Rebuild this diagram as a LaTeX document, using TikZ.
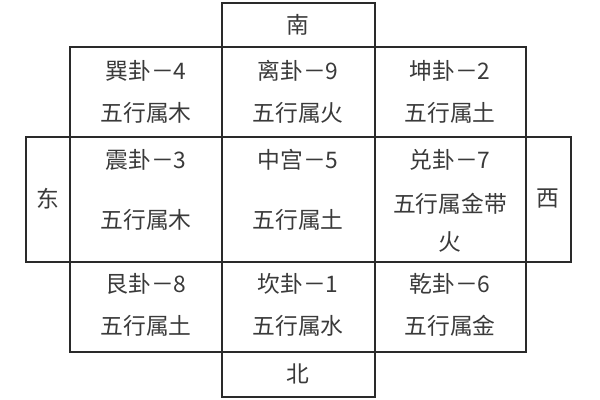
\documentclass[tikz,border=0pt]{standalone}
\usepackage{fontspec}
\newfontfamily\cjk{Noto Sans CJK SC}
\definecolor{ink}{HTML}{2A2A2A}
\definecolor{word}{HTML}{3A3A3A}
\tikzset{
	box/.style={draw=ink, line width=1.1pt},
	txt/.style={text=word, font=\cjk\fontsize{16.2pt}{19pt}\selectfont, inner sep=0pt}
}
\begin{document}
\begin{tikzpicture}[x=0.025cm, y=-0.025cm]

		\useasboundingbox (0,0) rectangle (600,400);

		% grid corners
		\coordinate (nw) at (70,47);
		\coordinate (se) at (526,352);

		% the nine cells
		\draw [box] (nw) rectangle (se);
		\draw [box] (222,47) -- (222,352);
		\draw [box] (375,47) -- (375,352);
		\draw [box] (70,137) -- (526,137);
		\draw [box] (70,262) -- (526,262);

		% the four directions
		\draw [box] (222,3)   rectangle (375,47);
		\draw [box] (222,352) rectangle (375,397);
		\draw [box] (26,137)  rectangle (70,262);
		\draw [box] (526,137) rectangle (571,262);

		\node [txt] (nan)  at (298,25)  {南};
		\node [txt] (bei)  at (298,374) {北};
		\node [txt] (dong) at (48,199)  {东};
		\node [txt] (xi)   at (548,199) {西};

		% top row
		\node [txt] (xun1)  at (146,71)  {巽卦－4};
		\node [txt] (xun2)  at (146,113) {五行属木};
		\node [txt] (li1)   at (298,71)  {离卦－9};
		\node [txt] (li2)   at (298,113) {五行属火};
		\node [txt] (kun1)  at (450,71)  {坤卦－2};
		\node [txt] (kun2)  at (450,113) {五行属土};

		% middle row
		\node [txt] (zhen1) at (146,160) {震卦－3};
		\node [txt] (zhen2) at (146,220) {五行属木};
		\node [txt] (zg1)   at (298,160) {中宫－5};
		\node [txt] (zg2)   at (298,220) {五行属土};
		\node [txt] (dui1)  at (450,160) {兑卦－7};
		\node [txt] (dui2)  at (450,204) {五行属金带};
		\node [txt] (dui3)  at (450,242) {火};

		% bottom row
		\node [txt] (gen1)  at (146,284) {艮卦－8};
		\node [txt] (gen2)  at (146,326) {五行属土};
		\node [txt] (kan1)  at (298,284) {坎卦－1};
		\node [txt] (kan2)  at (298,326) {五行属水};
		\node [txt] (qian1) at (450,284) {乾卦－6};
		\node [txt] (qian2) at (450,326) {五行属金};

	\end{tikzpicture}
\end{document}
